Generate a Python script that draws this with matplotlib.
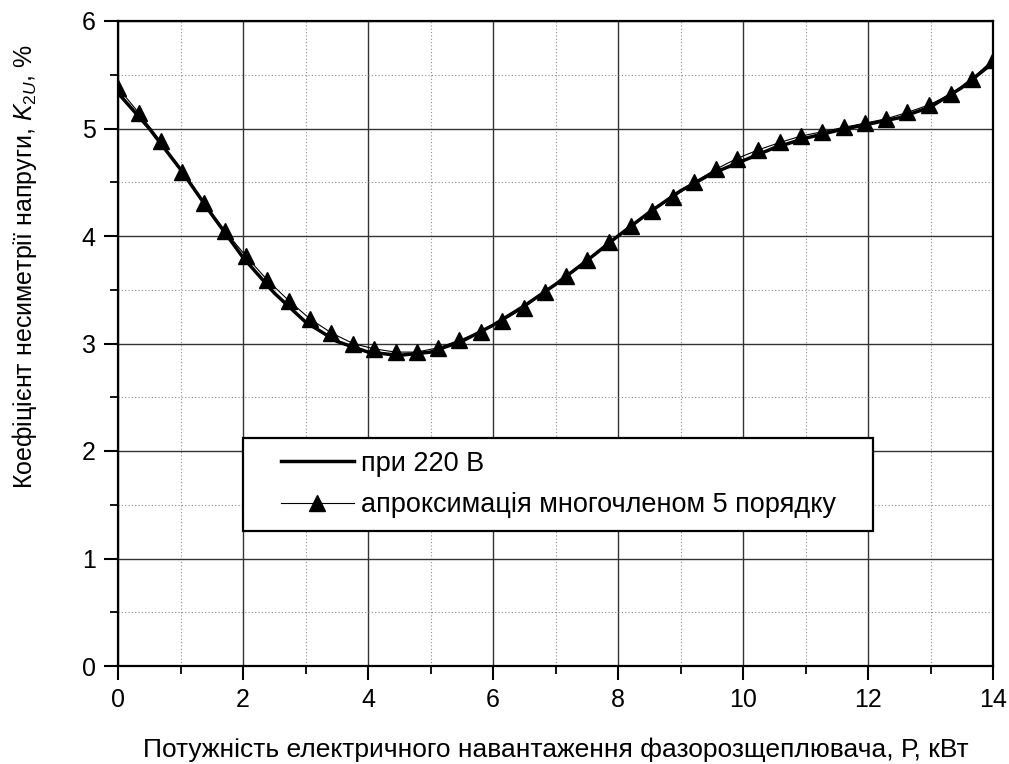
import matplotlib
matplotlib.use('Agg')
import matplotlib.pyplot as plt
from matplotlib.ticker import MultipleLocator

plt.rcParams['font.family'] = ['Liberation Sans', 'DejaVu Sans']
plt.rcParams['mathtext.fontset'] = 'custom'
plt.rcParams['mathtext.it'] = 'Liberation Sans:italic'
plt.rcParams['mathtext.rm'] = 'Liberation Sans'

# measured curve at 220 V
p_meas = [0, 0.5, 1, 1.5, 2, 2.5, 3, 3.5, 4, 4.5, 5, 5.5, 6, 6.5, 7,
          7.5, 8, 8.5, 9, 9.5, 10, 10.5, 11, 11.5, 12, 12.5, 13, 13.5, 14]
k_meas = [5.33, 5.0, 4.62, 4.2, 3.8, 3.47, 3.2, 3.02, 2.92, 2.89, 2.92, 3.02,
          3.17, 3.35, 3.55, 3.77, 4.0, 4.22, 4.42, 4.58, 4.7, 4.82, 4.91,
          4.98, 5.04, 5.1, 5.2, 5.38, 5.61]

# 5th order polynomial approximation
p_fit = [0, 0.34, 0.68, 1.02, 1.37, 1.71, 2.05, 2.39, 2.73, 3.07, 3.41,
         3.76, 4.1, 4.44, 4.78, 5.12, 5.46, 5.8, 6.15, 6.49, 6.83, 7.17,
         7.51, 7.85, 8.2, 8.54, 8.88, 9.22, 9.56, 9.9, 10.24, 10.59, 10.93,
         11.27, 11.61, 11.95, 12.29, 12.63, 12.98, 13.32, 13.66, 14.0]
k_fit = [5.38, 5.14, 4.88, 4.6, 4.31, 4.05, 3.81, 3.59, 3.4, 3.23, 3.1,
         3.0, 2.95, 2.92, 2.92, 2.96, 3.03, 3.11, 3.21, 3.33, 3.48, 3.63,
         3.78, 3.94, 4.09, 4.23, 4.36, 4.5, 4.62, 4.72, 4.8, 4.87, 4.93,
         4.97, 5.01, 5.05, 5.09, 5.15, 5.22, 5.32, 5.46, 5.64]

fig = plt.figure(figsize=(10.09, 7.64), dpi=100)
ax = fig.add_axes([118/1009, 98/764, 875/1009, 645/764])

ax.plot(p_meas, k_meas, color='black', lw=2.5, label='при 220 В', zorder=3)
ax.plot(p_fit, k_fit, color='black', lw=0.8, marker='^', ms=12,
        label='апроксимація многочленом 5 порядку', zorder=4)

ax.set_xlim(0, 14)
ax.set_ylim(0, 6)
ax.xaxis.set_major_locator(MultipleLocator(2))
ax.xaxis.set_minor_locator(MultipleLocator(1))
ax.yaxis.set_major_locator(MultipleLocator(1))
ax.yaxis.set_minor_locator(MultipleLocator(0.5))

ax.grid(which='major', color='#333333', lw=1.0, ls='-')
ax.grid(which='minor', color='#8c8c8c', lw=0.8, ls=(0, (1, 2)))
ax.set_axisbelow(True)

for s in ax.spines.values():
    s.set_linewidth(1.6)
ax.tick_params(which='major', direction='out', length=10, width=1.5,
               labelsize=18, pad=6)
ax.tick_params(which='minor', direction='out', length=6, width=1.3)

ax.set_xlabel('Потужність електричного навантаження фазорозщеплювача, Р, кВт',
              fontsize=19, va='center')
ax.xaxis.set_label_coords(0.5, -0.13)
ax.set_ylabel(r'Коефіцієнт несиметрії напруги, $K_{2U}$, %',
              fontsize=18, va='center')
ax.yaxis.set_label_coords(-0.107, 0.62)

leg = ax.legend(loc='lower left', bbox_to_anchor=(0.143, 0.209, 0.72, 0.141),
                mode='expand', fontsize=19.5, frameon=True, fancybox=False,
                handlelength=2.7, borderpad=0.48, labelspacing=0.57,
                handletextpad=0.26, borderaxespad=0, alignment='center')
# keep the entries together and centre them inside the wide frame
leg._legend_handle_box.mode = 'fixed'
leg.get_frame().set_edgecolor('black')
leg.get_frame().set_linewidth(1.6)
leg.get_frame().set_alpha(1)

fig.savefig('out.png', dpi=100)
